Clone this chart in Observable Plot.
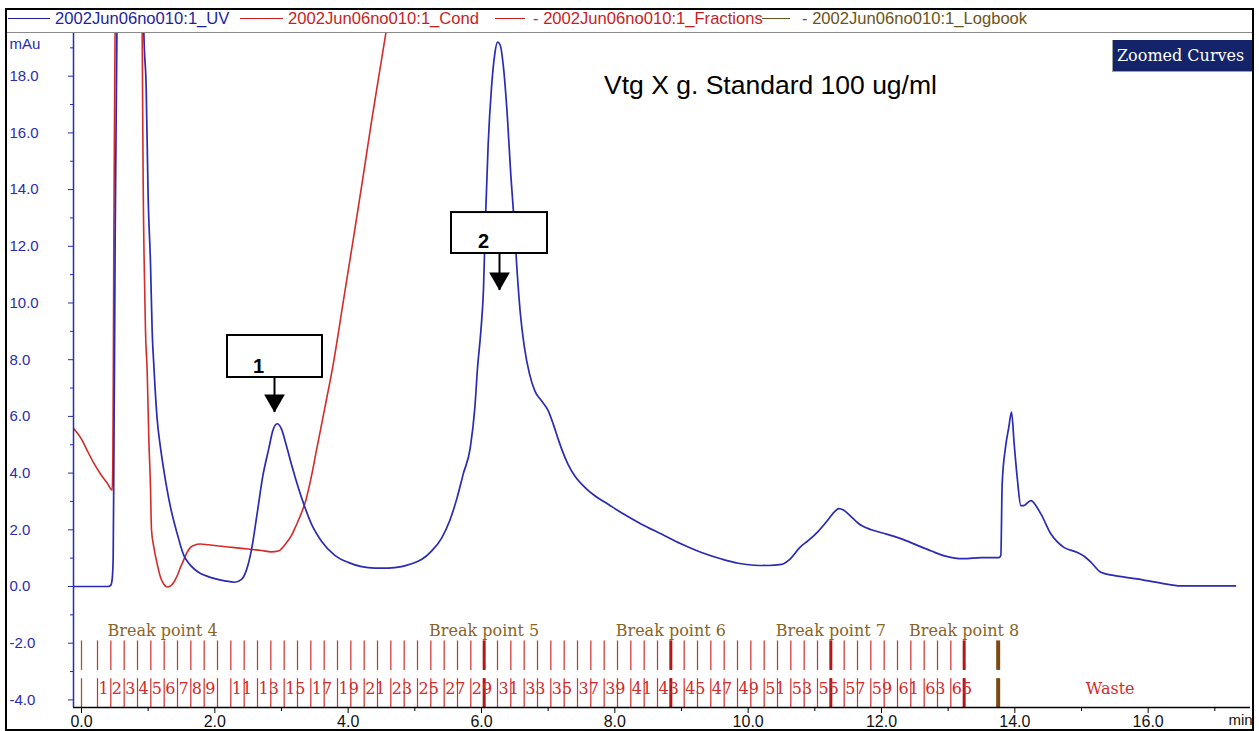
<!DOCTYPE html>
<html>
<head>
<meta charset="utf-8">
<script src="https://cdn.jsdelivr.net/npm/d3@7"></script>
<script src="https://cdn.jsdelivr.net/npm/@observablehq/plot@0.6"></script>
<style>
  html, body { margin: 0; padding: 0; background: #fff; }
  body { width: 1259px; height: 731px; position: relative; overflow: hidden; font-family: "Liberation Sans", Arial, sans-serif; }
  #frame { position: absolute; left: 5px; top: 8px; width: 1249px; height: 723px; border: 2px solid #000; box-sizing: border-box; overflow: hidden; background: #fff; }
  #chart { position: absolute; left: -7px; top: 22px; width: 1259px; height: 699px; }
  #legend { position: absolute; left: 0; top: 0; width: 100%; height: 22px; border-bottom: 1px solid #8a8a8a; }
  .li { position: absolute; top: -1px; height: 20px; line-height: 20px; font-size: 16.6px; white-space: nowrap; }
  .ln { position: absolute; top: 8px; height: 0; border-top: 1.3px solid; }
  #title { position: absolute; left: 597px; top: 62px; font-size: 26.5px; line-height: 26.5px; white-space: nowrap; color: #000; }
  #zoomed { position: absolute; left: 1105px; top: 30px; width: 150px; height: 32px; background: #14246a; border-left: 1px solid #a0a0a0; border-bottom: 1px solid #a0a0a0; color: #fff; font-family: "DejaVu Serif", serif; font-size: 16px; line-height: 32px; padding-left: 4px; box-sizing: border-box; white-space: nowrap; }
</style>
</head>
<body>
<div id="frame">
  <div id="legend"></div>
  <div id="chart"></div>
  <div id="title">Vtg X g. Standard 100 ug/ml</div>
  <div id="zoomed">Zoomed Curves</div>
</div>
<script>
// ---------------- DATA ----------------
// UV absorbance curve [time (min), mAu]
const uvCurve = [
  [-0.12, 0], [0.40, 0], [0.44, 0.05], [0.46, 0.25], [0.475, 1.0], [0.485, 4.3], [0.495, 8.0],
  [0.505, 12.3], [0.52, 16.5], [0.535, 20.5], [0.6, 40], [0.72, 55], [0.85, 40], [0.925, 21],
  [0.935, 19.6], [0.97, 17.6], [1.0, 13.7], [1.035, 11.4], [1.06, 9.0], [1.085, 7.8], [1.135, 5.9],
  [1.185, 4.9], [1.235, 4.1], [1.285, 3.4], [1.335, 2.8], [1.385, 2.3], [1.435, 1.87], [1.485, 1.45],
  [1.535, 1.1], [1.6, 0.85], [1.7, 0.6], [1.785, 0.46], [1.9, 0.35], [2.0, 0.28], [2.15, 0.2],
  [2.3, 0.15], [2.4, 0.25], [2.47, 0.55], [2.55, 1.3], [2.63, 2.5], [2.72, 3.9], [2.81, 4.87],
  [2.87, 5.5], [2.935, 5.74], [3.0, 5.55], [3.07, 5.0], [3.15, 4.3], [3.25, 3.5], [3.35, 2.8],
  [3.45, 2.2], [3.6, 1.6], [3.8, 1.1], [4.0, 0.85], [4.2, 0.7], [4.4, 0.65], [4.6, 0.65], [4.8, 0.7],
  [4.95, 0.8], [5.1, 0.95], [5.25, 1.25], [5.4, 1.7], [5.52, 2.3], [5.63, 3.1], [5.73, 4.0],
  [5.83, 4.87], [5.9, 6.3], [5.94, 7.7], [5.99, 9.0], [6.03, 10.5], [6.06, 13.0], [6.1, 15.6],
  [6.15, 17.6], [6.2, 18.8], [6.24, 19.2], [6.28, 19.1], [6.33, 18.3], [6.39, 16.5], [6.44, 14.5],
  [6.48, 13.2], [6.53, 11.26], [6.58, 9.7], [6.64, 8.5], [6.72, 7.5], [6.8, 6.9], [6.9, 6.55],
  [7.0, 6.2], [7.08, 5.7], [7.15, 5.2], [7.21, 4.8], [7.3, 4.3], [7.4, 3.9], [7.55, 3.5], [7.7, 3.2],
  [7.9, 2.9], [8.1, 2.6], [8.4, 2.2], [8.7, 1.85], [9.0, 1.5], [9.3, 1.2], [9.6, 0.97], [9.85, 0.82],
  [10.09, 0.75], [10.3, 0.74], [10.5, 0.78], [10.62, 0.95], [10.78, 1.39], [10.9, 1.62],
  [11.04, 1.92], [11.19, 2.33], [11.3, 2.65], [11.36, 2.75], [11.43, 2.7], [11.55, 2.45],
  [11.7, 2.15], [11.85, 2.0], [12.03, 1.88], [12.3, 1.68], [12.54, 1.45], [12.75, 1.25],
  [12.93, 1.09], [13.1, 1.0], [13.23, 0.98], [13.5, 1.02], [13.76, 1.02], [13.79, 1.1],
  [13.81, 3.62], [13.86, 4.91], [13.91, 5.62], [13.95, 6.15], [13.99, 5.03], [14.04, 3.74],
  [14.09, 2.85], [14.13, 2.85], [14.24, 3.03], [14.39, 2.56], [14.54, 1.86], [14.73, 1.39],
  [14.93, 1.21], [15.05, 1.05], [15.14, 0.86], [15.29, 0.5], [15.48, 0.39], [15.83, 0.27],
  [16.19, 0.12], [16.49, 0.02], [17.31, 0.02]
];

// Conductivity curve [time (min), plotted value]
const condCurve = [
  [-0.12, 5.58], [0.0, 5.2], [0.085, 4.8], [0.185, 4.35], [0.285, 3.97], [0.385, 3.65], [0.46, 3.4],
  [0.47, 4.4], [0.478, 8.0], [0.485, 12.3], [0.495, 16.5], [0.505, 20], [0.6, 35], [0.75, 40],
  [0.88, 30], [0.91, 19.6], [0.925, 14.3], [0.95, 10.2], [0.96, 9.0], [0.985, 7.6], [1.01, 5.2],
  [1.035, 3.5], [1.05, 2.0], [1.085, 1.39], [1.135, 0.8], [1.185, 0.33], [1.235, 0.08],
  [1.285, -0.02], [1.335, 0.02], [1.385, 0.15], [1.435, 0.38], [1.485, 0.68], [1.535, 0.95],
  [1.585, 1.21], [1.635, 1.38], [1.685, 1.45], [1.785, 1.5], [1.9, 1.47], [2.1, 1.42], [2.3, 1.37],
  [2.5, 1.32], [2.7, 1.27], [2.85, 1.22], [2.95, 1.25], [3.06, 1.5], [3.15, 1.8], [3.21, 2.1],
  [3.3, 2.6], [3.36, 3.0], [3.45, 3.9], [3.53, 4.87], [3.65, 6.3], [3.78, 7.9], [3.93, 10.1],
  [4.08, 12.3], [4.22, 14.4], [4.35, 16.4], [4.46, 18.0], [4.56, 19.44], [4.7, 21.5]
];

// Fraction boundaries (min)
const fractionBounds = [
  0.24, 0.44, 0.64, 0.84, 1.04, 1.24, 1.44, 1.64, 1.84, 2.04, 2.24, 2.44, 2.64, 2.84, 3.04, 3.24,
  3.44, 3.64, 3.84, 4.04, 4.24, 4.44, 4.64, 4.84, 5.04, 5.24, 5.44, 5.64, 5.84, 6.04, 6.24, 6.44,
  6.64, 6.84, 7.04, 7.24, 7.44, 7.64, 7.84, 8.04, 8.24, 8.44, 8.64, 8.84, 9.04, 9.24, 9.44, 9.64,
  9.84, 10.04, 10.24, 10.44, 10.64, 10.84, 11.04, 11.24, 11.44, 11.64, 11.84, 12.04, 12.24, 12.44,
  12.64, 12.84, 13.04, 13.24
];
// Fraction numbers shown
const fractionLabels = ["1","2","3","4","5","6","7","8","9","11","13","15","17","19","21","23","25",
  "27","29","31","33","35","37","39","41","43","45","47","49","51","53","55","57","59","61","63","65"];

// Break points (min)
const breakNames = ["Break point 4", "Break point 5", "Break point 6", "Break point 7", "Break point 8"];
const breakTimes = [0.0, 6.04, 8.84, 11.24, 13.24];

// Logbook events (min)
const logbookTimes = [0.0, 13.75];
const wasteLabel = ["Waste"];
const wasteTime = [15.43];

// Peak annotations
const peakLabels = ["1", "2"];
const peakTimes = [2.895, 6.27];
const boxLeft = [2.19, 5.55];
const boxRight = [3.615, 6.99];
const boxTop = [8.854, 13.19];
const boxBottom = [7.372, 11.746];
const arrowTip = [6.138, 10.44];

// Axes
const xDomain = [-0.12, 17.535];
const yDomain = [-4.268, 19.506];
const xMajor = [0, 2, 4, 6, 8, 10, 12, 14, 16];
const xMinor = [1, 3, 5, 7, 9, 11, 13, 15, 17];
const yMajor = [-4, -2, 0, 2, 4, 6, 8, 10, 12, 14, 16, 18];
const yMinor = [-3, -1, 1, 3, 5, 7, 9, 11, 13, 15, 17, 19];

const legendItems = [
  {text: "2002Jun06no010:1_UV", color: "#1f1fa0"},
  {text: "2002Jun06no010:1_Cond", color: "#c81e1e"},
  {text: "- 2002Jun06no010:1_Fractions", color: "#c81e1e"},
  {text: "- 2002Jun06no010:1_Logbook", color: "#6b5320"}
];

// ---------------- STYLE ----------------
const BLUE = "#2a2ab4", RED = "#d42a2a", DARKRED = "#b01818", BROWN = "#8a6424", LOGBROWN = "#7b4a12";
const serif = "DejaVu Serif, serif";

// ---------------- LEGEND ----------------
const legendLayout = [[1, 43, 48], [233, 276, 281], [488, 518, 526], [755, 783, 795]];
const legend = document.getElementById("legend");
legendItems.forEach((d, i) => {
  const [l0, l1, tx] = legendLayout[i];
  const ln = document.createElement("div");
  ln.className = "ln";
  ln.style.left = l0 + "px";
  ln.style.width = (l1 - l0) + "px";
  ln.style.borderTopColor = d.color;
  legend.appendChild(ln);
  const t = document.createElement("div");
  t.className = "li";
  t.style.left = tx + "px";
  t.style.color = d.color;
  t.textContent = d.text;
  legend.appendChild(t);
});

// ---------------- CHART ----------------
const uv = uvCurve.map(([t, v]) => ({t, v}));
const cond = condCurve.map(([t, v]) => ({t, v}));
const fractionLabelData = fractionLabels.map(s => ({s, t: fractionBounds[+s - 1]}));
const breaks = breakNames.map((name, i) => ({name, t: breakTimes[i]}));
const logbook = logbookTimes.map((t, i) => ({t, i}));
const annotations = peakLabels.map((label, i) => ({
  label, t: peakTimes[i], x1: boxLeft[i], x2: boxRight[i], top: boxTop[i], bottom: boxBottom[i], tip: arrowTip[i]
}));

const topRow = [-1.92, -2.96];
const botRow = [-3.25, -4.268];
const SERIF_SIZE = 16;

const chart = Plot.plot({
  width: 1259,
  height: 699,
  marginLeft: 73,
  marginRight: 9,
  marginTop: 1,
  marginBottom: 24,
  x: {domain: xDomain, axis: null},
  y: {domain: yDomain, axis: null},
  style: {background: "transparent", fontFamily: "Liberation Sans, Arial, sans-serif", overflow: "visible"},
  marks: [
    // fraction ticks (two rows)
    Plot.ruleX(fractionBounds, {x: d => d, y1: topRow[0], y2: topRow[1], stroke: RED, strokeWidth: 1.2}),
    Plot.ruleX(fractionBounds, {x: d => d, y1: botRow[0], y2: botRow[1], stroke: RED, strokeWidth: 1.2}),
    // break point ticks
    Plot.ruleX(breaks, {filter: d => d.t > 0.01, x: "t", y1: topRow[0], y2: topRow[1], stroke: DARKRED, strokeWidth: 3}),
    Plot.ruleX(breaks, {filter: d => d.t > 0.01, x: "t", y1: botRow[0], y2: botRow[1], stroke: DARKRED, strokeWidth: 3}),
    // logbook ticks
    Plot.ruleX(logbook, {x: "t", y1: topRow[0], y2: topRow[1], stroke: d => d.i === 0 ? BROWN : LOGBROWN, strokeWidth: d => d.i === 0 ? 1.3 : 4}),
    Plot.ruleX(logbook, {x: "t", y1: botRow[0], y2: botRow[1], stroke: d => d.i === 0 ? BROWN : LOGBROWN, strokeWidth: d => d.i === 0 ? 1.3 : 4}),
    // fraction numbers
    Plot.text(fractionLabelData, {x: "t", y: -3.6, text: "s", textAnchor: "start", dx: 1, fill: RED, fontSize: SERIF_SIZE, fontFamily: serif}),
    Plot.text(wasteLabel, {x: wasteTime, y: -3.6, text: d => d, fill: RED, fontSize: SERIF_SIZE, fontFamily: serif}),
    // break point labels
    Plot.text(breaks, {filter: d => d.t <= 0.01, x: "t", y: -1.55, text: "name", textAnchor: "start", dx: 26, fill: BROWN, fontSize: SERIF_SIZE, fontFamily: serif}),
    Plot.text(breaks, {filter: d => d.t > 0.01, x: "t", y: -1.55, text: "name", textAnchor: "middle", fill: BROWN, fontSize: SERIF_SIZE, fontFamily: serif}),
    // curves
    Plot.line(cond, {x: "t", y: "v", stroke: RED, strokeWidth: 1.6, curve: "monotone-x", clip: true}),
    Plot.line(uv, {x: "t", y: "v", stroke: BLUE, strokeWidth: 1.7, curve: "monotone-x", clip: true}),
    // annotation boxes + arrows
    Plot.rect(annotations, {x1: "x1", x2: "x2", y1: "bottom", y2: "top", fill: "white", stroke: "black", strokeWidth: 2}),
    Plot.ruleX(annotations, {x: "t", y1: "bottom", y2: "tip", stroke: "black", strokeWidth: 2}),
    Plot.dot(annotations, {x: "t", y: "tip", symbol: "triangle", rotate: 180, r: 7.7, fill: "black", stroke: "none", dy: -12}),
    Plot.text(annotations, {x: "t", y: "bottom", text: "label", dx: -16, dy: -5, lineAnchor: "bottom", fontWeight: "bold", fontSize: 20, fill: "black"}),
    // axes
    Plot.ruleX([xDomain[0]], {stroke: BLUE, strokeWidth: 1.5}),
    Plot.ruleY([yDomain[0]], {stroke: "#000", strokeWidth: 1.5}),
    Plot.axisY(yMajor, {tickSize: 5, tickFormat: () => "", stroke: BLUE}),
    Plot.axisY(yMinor.filter(v => v < yDomain[1]), {tickSize: 3, tickFormat: () => "", stroke: BLUE}),
    Plot.text(yMajor, {y: d => d, text: d => d.toFixed(1), frameAnchor: "left", dx: -64, textAnchor: "start", fill: BLUE, fontSize: 15}),
    Plot.text(["mAu"], {frameAnchor: "top-left", dx: -64, dy: 11, lineAnchor: "middle", textAnchor: "start", fill: BLUE, fontSize: 15}),
    Plot.axisX(xMajor, {tickSize: 6, tickPadding: 2, tickFormat: d => d.toFixed(1), fontSize: 16, stroke: "#000", fill: "#111"}),
    Plot.axisX(xMinor, {tickSize: 4, tickFormat: () => "", stroke: "#000"}),
    Plot.text(["min"], {frameAnchor: "bottom-right", dx: -22, dy: 13, lineAnchor: "middle", textAnchor: "start", fill: "#111", fontSize: 15})
  ]
});
document.getElementById("chart").appendChild(chart);
</script>
</body>
</html>
